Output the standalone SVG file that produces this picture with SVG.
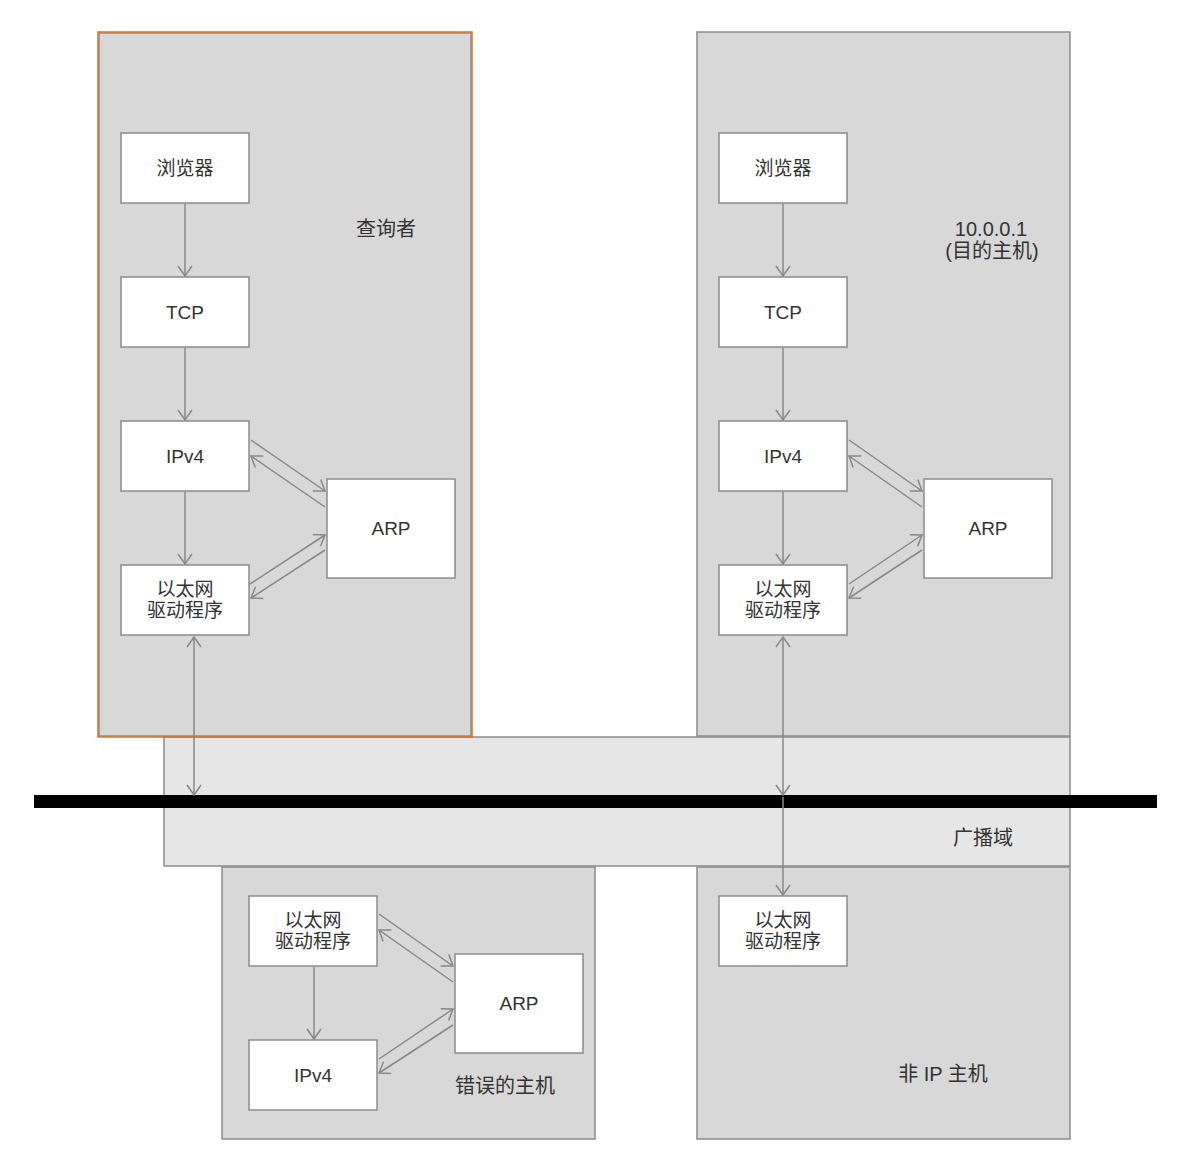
<svg xmlns="http://www.w3.org/2000/svg" width="1195" height="1165" viewBox="0 0 1195 1165">
<style>
.host{fill:#d8d8d8;stroke:#8c8c8c;stroke-width:1.5}
.bd{fill:#e6e6e6;stroke:#8c8c8c;stroke-width:1.5}
.node{fill:#ffffff;stroke:#8c8c8c;stroke-width:1.5}
.t{font-family:"Liberation Sans","Noto Sans CJK SC",sans-serif;font-size:19px;fill:#333333;text-anchor:middle}
.lbl{font-family:"Liberation Sans","Noto Sans CJK SC",sans-serif;font-size:20px;fill:#333333;text-anchor:middle}
.c{stroke:#888888;stroke-width:1.5;fill:none;marker-end:url(#ah)}
.cb{stroke:#888888;stroke-width:1.5;fill:none;marker-end:url(#ah);marker-start:url(#ahs)}
</style>
<defs>
<marker id="ah" viewBox="0 0 12 16" refX="11" refY="8" markerWidth="12" markerHeight="16" markerUnits="userSpaceOnUse" orient="auto">
<path d="M1,1 L11,8 L1,15" fill="none" stroke="#888888" stroke-width="1.5"/>
</marker>
<marker id="ahs" viewBox="0 0 12 16" refX="1" refY="8" markerWidth="12" markerHeight="16" markerUnits="userSpaceOnUse" orient="auto">
<path d="M11,1 L1,8 L11,15" fill="none" stroke="#888888" stroke-width="1.5"/>
</marker>
</defs>
<rect x="0" y="0" width="1195" height="1165" fill="#ffffff"/>

<g id="broadcast-domain">
<rect class="bd" x="164" y="737" width="906" height="129"/>
<text class="lbl" x="983" y="845">广播域</text>
</g>

<g id="host-querier">
<rect class="host" x="99" y="33" width="372" height="703"/>
<rect x="98" y="32" width="374" height="705" fill="none" stroke="#d6732a" stroke-width="1.5"/>
<text class="lbl" x="386" y="236">查询者</text>
</g>

<g id="host-target">
<rect class="host" x="697" y="32" width="373" height="704"/>
<text class="lbl" x="991" y="236">10.0.0.1</text>
<text class="lbl" x="992" y="258">(目的主机)</text>
</g>

<g id="host-wrong">
<rect class="host" x="222" y="867" width="373" height="272"/>
<text class="lbl" x="505" y="1093">错误的主机</text>
</g>

<g id="host-nonip">
<rect class="host" x="697" y="867" width="373" height="272"/>
<text class="lbl" x="943" y="1081">非 IP 主机</text>
</g>

<g id="bus">
<rect x="34" y="795" width="1123" height="13" fill="#000000"/>
</g>

<g id="q-browser"><rect class="node" x="121" y="133" width="128" height="70"/><text class="t" x="185" y="175">浏览器</text></g>
<g id="q-tcp"><rect class="node" x="121" y="277" width="128" height="70"/><text class="t" x="185" y="319">TCP</text></g>
<g id="q-ipv4"><rect class="node" x="121" y="421" width="128" height="70"/><text class="t" x="185" y="463">IPv4</text></g>
<g id="q-eth"><rect class="node" x="121" y="565" width="128" height="70"/><text class="t" x="185" y="596">以太网</text><text class="t" x="185" y="617">驱动程序</text></g>
<g id="q-arp"><rect class="node" x="327" y="479" width="128" height="99"/><text class="t" x="391" y="535">ARP</text></g>

<g id="t-browser"><rect class="node" x="719" y="133" width="128" height="70"/><text class="t" x="783" y="175">浏览器</text></g>
<g id="t-tcp"><rect class="node" x="719" y="277" width="128" height="70"/><text class="t" x="783" y="319">TCP</text></g>
<g id="t-ipv4"><rect class="node" x="719" y="421" width="128" height="70"/><text class="t" x="783" y="463">IPv4</text></g>
<g id="t-eth"><rect class="node" x="719" y="565" width="128" height="70"/><text class="t" x="783" y="596">以太网</text><text class="t" x="783" y="617">驱动程序</text></g>
<g id="t-arp"><rect class="node" x="924" y="479" width="128" height="99"/><text class="t" x="988" y="535">ARP</text></g>

<g id="w-eth"><rect class="node" x="249" y="896" width="128" height="70"/><text class="t" x="313" y="927">以太网</text><text class="t" x="313" y="948">驱动程序</text></g>
<g id="w-ipv4"><rect class="node" x="249" y="1040" width="128" height="70"/><text class="t" x="313" y="1082">IPv4</text></g>
<g id="w-arp"><rect class="node" x="455" y="954" width="128" height="99"/><text class="t" x="519" y="1010">ARP</text></g>

<g id="n-eth"><rect class="node" x="719" y="896" width="128" height="70"/><text class="t" x="783" y="927">以太网</text><text class="t" x="783" y="948">驱动程序</text></g>

<g id="connectors">
<line class="c" x1="185" y1="204" x2="185" y2="276"/>
<line class="c" x1="185" y1="348" x2="185" y2="420"/>
<line class="c" x1="185" y1="492" x2="185" y2="564"/>
<line class="c" x1="251" y1="440" x2="325" y2="491"/>
<line class="c" x1="325" y1="507" x2="251" y2="456"/>
<line class="c" x1="250" y1="584" x2="325" y2="535"/>
<line class="c" x1="325" y1="550" x2="251" y2="598"/>
<line class="cb" x1="194" y1="637" x2="194" y2="795"/>

<line class="c" x1="783" y1="204" x2="783" y2="276"/>
<line class="c" x1="783" y1="348" x2="783" y2="420"/>
<line class="c" x1="783" y1="492" x2="783" y2="564"/>
<line class="c" x1="849" y1="440" x2="922" y2="491"/>
<line class="c" x1="922" y1="507" x2="849" y2="456"/>
<line class="c" x1="849" y1="584" x2="922" y2="535"/>
<line class="c" x1="922" y1="550" x2="849" y2="598"/>
<line class="cb" x1="783" y1="637" x2="783" y2="795"/>
<line class="c" x1="783" y1="797" x2="783" y2="895"/>

<line class="c" x1="314" y1="967" x2="314" y2="1039"/>
<line class="c" x1="379" y1="914" x2="453" y2="966"/>
<line class="c" x1="453" y1="982" x2="379" y2="930"/>
<line class="c" x1="379" y1="1059" x2="453" y2="1009"/>
<line class="c" x1="453" y1="1025" x2="379" y2="1073"/>
</g>
</svg>
